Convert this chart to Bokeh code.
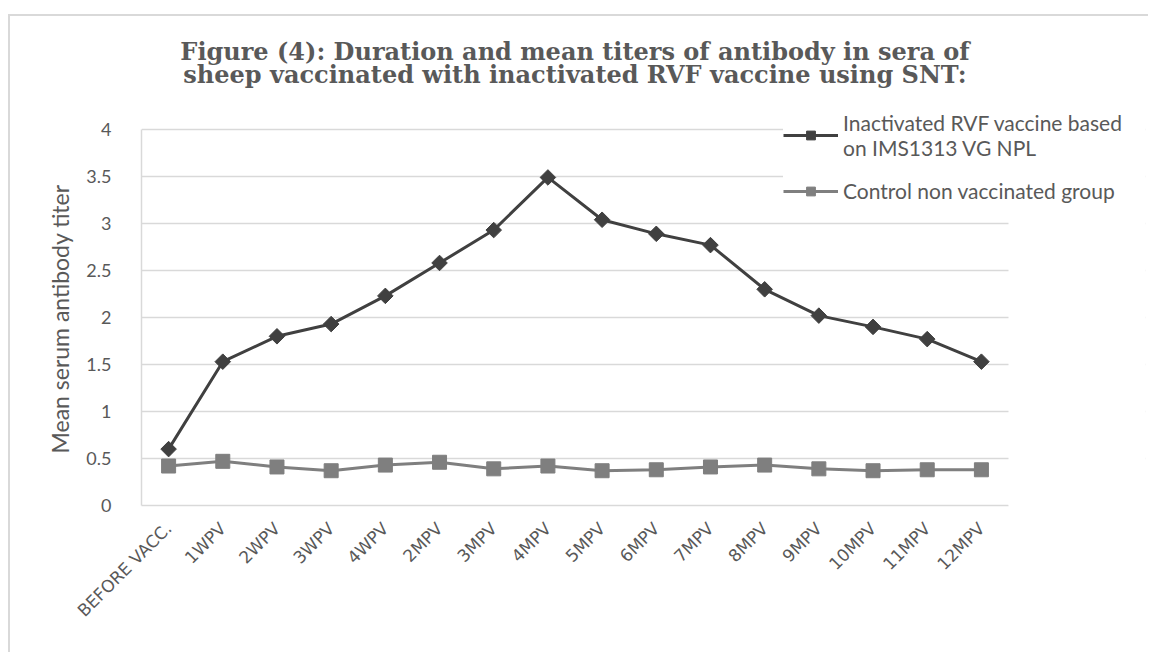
import math
from bokeh.plotting import figure
from bokeh.models import (Range1d, FixedTicker, Label, Legend, LegendItem, BoxAnnotation,
                          Title)
from bokeh.embed import file_html
from bokeh.resources import INLINE

categories = ["BEFORE VACC.", "1WPV", "2WPV", "3WPV", "4WPV", "2MPV", "3MPV", "4MPV",
              "5MPV", "6MPV", "7MPV", "8MPV", "9MPV", "10MPV", "11MPV", "12MPV"]
vaccine = [0.60, 1.53, 1.80, 1.93, 2.23, 2.58, 2.93, 3.49,
           3.04, 2.89, 2.77, 2.30, 2.02, 1.90, 1.77, 1.53]
control = [0.42, 0.47, 0.41, 0.37, 0.43, 0.46, 0.39, 0.42,
           0.37, 0.38, 0.41, 0.43, 0.39, 0.37, 0.38, 0.38]
y_ticks = [0, 0.5, 1, 1.5, 2, 2.5, 3, 3.5, 4]
y_tick_labels = ["0", "0.5", "1", "1.5", "2", "2.5", "3", "3.5", "4"]
title_lines = ["Figure (4): Duration and mean titers of antibody in sera of",
               "sheep vaccinated with inactivated RVF vaccine using SNT:"]
legend_labels = ["Inactivated RVF vaccine based\non IMS1313 VG NPL",
                 "Control non vaccinated group"]
y_label = "Mean serum antibody titer"

n = len(categories)
xs = list(range(n))

# layout (pixels)
W, H = 1140, 638
B_LEFT, B_RIGHT, B_TOP, B_BOTTOM = 131, 5, 4, 149
frame_w = W - B_LEFT - B_RIGHT
frame_h = H - B_TOP - B_BOTTOM
PX_PER_CAT = 867 / n          # axis part of the frame
PX_PER_UNIT = 376 / 4         # 0..4 axis part of the frame
x_end = -0.5 + frame_w / PX_PER_CAT
y_end = frame_h / PX_PER_UNIT

p = figure(width=W, height=H, output_backend="svg", toolbar_location=None,
           x_range=Range1d(-0.5, x_end), y_range=Range1d(0, y_end),
           min_border_left=B_LEFT, min_border_right=B_RIGHT, min_border_top=B_TOP,
           min_border_bottom=B_BOTTOM,
           styles={"margin-left": "8px", "margin-top": "14px",
                   "border-left": "2px solid #d9d9d9", "border-top": "2px solid #d9d9d9"})
p.outline_line_color = None
p.background_fill_color = "white"
p.border_fill_color = "white"

GRAY = "#595959"
GRID = "#d9d9d9"

# axes
p.xaxis.ticker = FixedTicker(ticks=xs)
p.xaxis.bounds = (-0.5, n - 0.5)
p.xaxis.major_label_overrides = {i: c for i, c in enumerate(categories)}
p.xaxis.major_label_orientation = math.pi / 4
p.xaxis.major_label_text_font = "DejaVu Sans"
p.xaxis.major_label_text_font_size = "17px"
p.xaxis.major_label_text_color = GRAY
p.xaxis.major_label_standoff = 14
p.xaxis.axis_line_color = GRID
p.xaxis.axis_line_width = 1.5
p.xaxis.major_tick_line_color = None
p.xaxis.minor_tick_line_color = None

p.yaxis.ticker = FixedTicker(ticks=y_ticks)
p.yaxis.bounds = (0, 4)
p.yaxis.major_label_overrides = {t: l for t, l in zip(y_ticks, y_tick_labels)}
p.yaxis.major_label_text_font = "Lato"
p.yaxis.major_label_text_font_size = "18px"
p.yaxis.major_label_text_color = GRAY
p.yaxis.major_label_standoff = 24
p.yaxis.axis_line_color = GRID
p.yaxis.axis_line_width = 1.5
p.yaxis.major_tick_line_color = None
p.yaxis.minor_tick_line_color = None

# y axis title, placed along the 0..4 part of the axis
p.add_layout(Title(text=y_label, align="left", offset=52, standoff=20,
                   text_font="Lato", text_font_size="23px", text_font_style="normal",
                   text_color=GRAY), "left")

p.xgrid.grid_line_color = None
p.ygrid.grid_line_color = GRID
p.ygrid.grid_line_width = 1.5

# series
l1 = p.line(xs, vaccine, line_color="#404040", line_width=3)
m1 = p.scatter(xs, vaccine, marker="square", angle=math.pi / 4, size=11,
               fill_color="#404040", line_color="#404040")
l2 = p.line(xs, control, line_color="#7f7f7f", line_width=3)
m2 = p.scatter(xs, control, marker="square", size=14, fill_color="#7f7f7f",
               line_color="#7f7f7f")

# white mask to end the gridlines at the category axis end
p.add_layout(BoxAnnotation(left=n - 0.5, fill_color="white", fill_alpha=1,
                           line_color=None))

legend = Legend(items=[LegendItem(label=legend_labels[0], renderers=[l1, m1]),
                       LegendItem(label=legend_labels[1], renderers=[l2, m2])],
                location=(642, 302))
legend.glyph_width = 55
legend.glyph_height = 22
legend.label_standoff = 5
legend.padding = 0
legend.margin = 0
legend.spacing = 18
legend.label_text_font = "Lato"
legend.label_text_font_size = "21px"
legend.label_text_color = GRAY
legend.label_height = 24
legend.background_fill_color = "white"
legend.background_fill_alpha = 1
legend.border_line_color = None
p.add_layout(legend, "center")

# title (two lines)
for txt, yv in zip(title_lines, [4.83, 4.585]):
    p.add_layout(Label(x=(n - 1) / 2, y=yv, text=txt,
                       text_align="center", text_baseline="alphabetic",
                       text_font="DejaVu Serif", text_font_style="bold",
                       text_font_size="24px", text_color=GRAY))

open("out.html", "w").write(file_html(p, INLINE))
